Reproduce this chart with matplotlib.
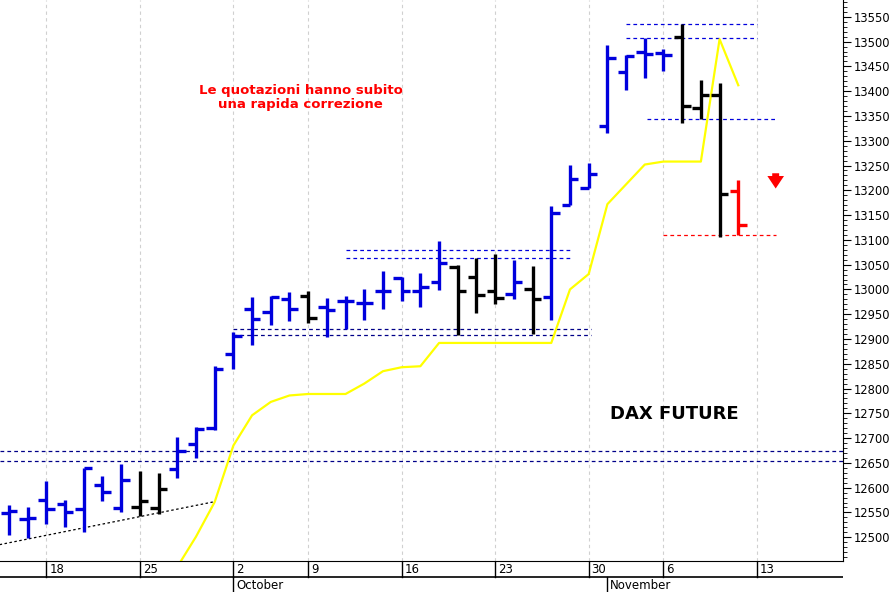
import matplotlib
matplotlib.use("Agg")
import matplotlib.pyplot as plt
import numpy as np

# OHLC per trading day (index 0 = 14 Sep 2017)
opens  = [12548,12537,12576,12568,12557,12605,12558,12561,12558,12637,12689,12720,
          12870,12960,12954,12981,12987,12964,12977,12972,12997,13024,12997,13015,
          13046,13026,12997,12991,13001,12984,13170,13205,13329,13438,13480,13477,
          13510,13366,13393,13198]
highs  = [12566,12561,12614,12575,12639,12623,12647,12633,12630,12702,12722,12846,
          12915,12984,12987,12994,12996,12983,12987,13001,13038,13025,13034,13097,
          13049,13064,13072,13059,13048,13168,13252,13256,13494,13473,13507,13485,
          13536,13423,13416,13221]
lows   = [12504,12499,12526,12520,12510,12573,12550,12543,12546,12620,12659,12717,
          12840,12888,12928,12937,12932,12903,12920,12938,12960,12977,12964,12999,
          12908,12952,12970,12981,12910,12939,13170,13205,13315,13403,13427,13440,
          13336,13343,13105,13109]
closes = [12553,12538,12556,12551,12639,12592,12615,12573,12598,12673,12719,12840,
          12907,12940,12985,12960,12942,12958,12977,12972,12997,12997,13004,13054,
          12997,12989,12982,13014,12981,13154,13222,13232,13467,13471,13476,13474,
          13371,13393,13192,13130]
bar_colors = (["#0000dd"]*7 + ["black"]*2 + ["#0000dd"]*7 + ["black"] + ["#0000dd"]*7 +
              ["black"]*3 + ["#0000dd"] + ["black"] + ["#0000dd"]*7 + ["black"]*3 + ["red"])

# yellow line (index, value)
yl_idx = [9,10,11,12,13,14,15,16,17,18,19,20,21,22,23,24,25,26,27,28,29,30,31,32,33,34,35,36,37,38,39]
yl_val = [12440,12501,12571,12685,12746,12773,12786,12789,12789,12789,12810,12835,12843,12845,12892,
          12892,12892,12892,12892,12892,12892,13000,13031,13172,13212,13252,13258,13258,13258,13505,13412]

tick_idx = [2,7,12,16,21,26,31,35,40]
tick_lbl = ["18","25","2","9","16","23","30","6","13"]
months = [(12,"October"),(32,"November")]

fig = plt.figure(figsize=(8.92,5.92), dpi=100)
ax = fig.add_axes([0, 31/592, 843/892, 561/592])
ax.set_xlim(-0.48, 44.6)
ax.set_ylim(12452, 13584)

for t in tick_idx:
    ax.axvline(t, color="#d0d0d0", ls=(0,(3,3)), lw=0.8, zorder=0)

x = np.arange(len(opens))
w = 0.45
ax.vlines(x, lows, highs, colors=bar_colors, lw=2.4, zorder=3)
ax.hlines(opens, x-w, x, colors=bar_colors, lw=2.4, zorder=3)
ax.hlines(closes, x, x+w, colors=bar_colors, lw=2.4, zorder=3)

ax.plot(yl_idx, yl_val, color="#ffff00", lw=1.6, zorder=2)
ax.plot([-0.5,10.9],[12485,12571], color="black", ls=(0,(2,2)), lw=0.9, zorder=2)

def hl(y, x0, x1, c):
    ax.plot([x0,x1],[y,y], color=c, ls=(0,(3,2.5)), lw=0.9, zorder=1)
hl(12673,-0.5,44.6,"#000088"); hl(12653,-0.5,44.6,"#000088")
hl(12921,12,31.1,"#000088"); hl(12909,12,31.1,"#000088")
hl(13079,18,30.1,"#0000dd"); hl(13064,18,30.1,"#0000dd")
hl(13535,33,40,"#0000dd"); hl(13507,33,40,"#0000dd")
hl(13343,34.1,41,"#0000dd")
hl(13109,35,41,"red")

ax.annotate("", xy=(41,13198), xytext=(41,13240),
            arrowprops=dict(arrowstyle="simple,head_width=1.2,head_length=0.9,tail_width=0.5", color="red", lw=0))

ax.text(15.6,13387,"Le quotazioni hanno subito\nuna rapida correzione", color="red",
        fontsize=9.5, fontweight="bold", ha="center", va="center", linespacing=1.1)
ax.text(35.6,12749,"DAX FUTURE", color="black", fontsize=13, fontweight="bold", ha="center", va="center")

ax.yaxis.tick_right()
ax.set_yticks(np.arange(12500,13551,50))
ax.set_yticks(np.arange(12460,13581,10), minor=True)
ax.tick_params(axis="y", which="major", length=6, labelsize=8.3, direction="out", pad=2)
ax.tick_params(axis="y", which="minor", length=3)
ax.set_xticks([])
for s in ["left","top"]:
    ax.spines[s].set_visible(False)

# date rows
xax = fig.add_axes([0, 0, 843/892, 31/592], sharex=ax)
xax.set_ylim(0,2)
xax.axis("off")
xax.axhline(1.0, color="black", lw=1.2)
for t,l in zip(tick_idx,tick_lbl):
    xax.plot([t,t],[1,2], color="black", lw=1)
    xax.text(t+0.15,1.45,l, fontsize=8.5, va="center", ha="left")
for t,l in months:
    xax.plot([t,t],[0,1], color="black", lw=1)
    xax.text(t+0.15,0.45,l, fontsize=8.5, va="center", ha="left")

fig.savefig("out.png", dpi=100)
